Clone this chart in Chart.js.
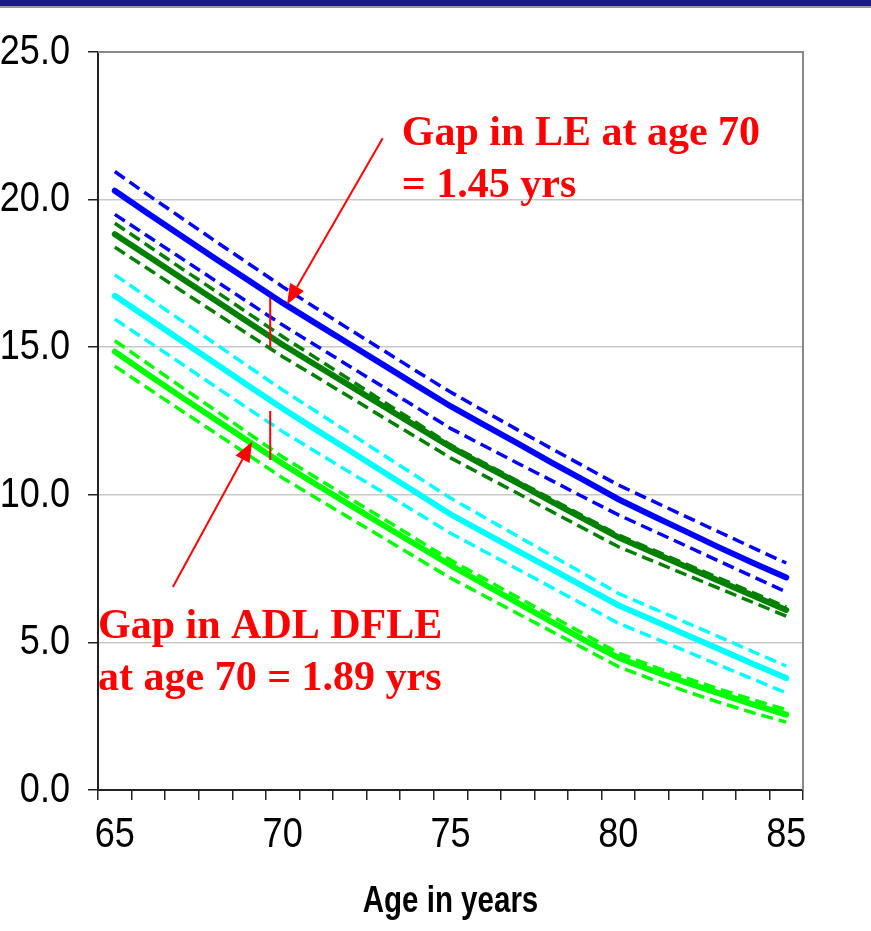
<!DOCTYPE html>
<html>
<head>
<meta charset="utf-8">
<script src="https://cdn.jsdelivr.net/npm/chart.js@4.4.1/dist/chart.umd.min.js"></script>
<style>
  html, body { margin: 0; padding: 0; background: #fff; }
  #wrap { position: relative; width: 871px; height: 931px; }
</style>
</head>
<body>
<div id="wrap"><canvas id="chart" width="871" height="931"></canvas></div>
<script>
// Ages on the category axis
const ages = [65, 66, 67, 68, 69, 70, 71, 72, 73, 74, 75, 76, 77, 78, 79, 80, 81, 82, 83, 84, 85];

// Life expectancy, group 1 (blue) with its bounds
const leBlue      = [20.30, 19.52, 18.76, 18.00, 17.25, 16.50, 15.80, 15.10, 14.40, 13.70, 13.00, 12.37, 11.74, 11.10, 10.48, 9.85, 9.30, 8.76, 8.22, 7.70, 7.20];
const leBlueHi    = [20.95, 20.15, 19.37, 18.59, 17.82, 17.05, 16.32, 15.60, 14.89, 14.18, 13.48, 12.84, 12.20, 11.57, 10.95, 10.33, 9.80, 9.27, 8.74, 8.21, 7.69];
const leBlueLo    = [19.50, 18.75, 18.00, 17.25, 16.50, 15.75, 15.05, 14.35, 13.65, 12.95, 12.25, 11.66, 11.07, 10.49, 9.90, 9.32, 8.80, 8.28, 7.75, 7.23, 6.71];

// Life expectancy, group 2 (dark green) with its bounds
const leGreen     = [18.83, 18.08, 17.33, 16.58, 15.83, 15.08, 14.39, 13.70, 13.00, 12.31, 11.62, 11.00, 10.40, 9.78, 9.17, 8.56, 8.06, 7.57, 7.08, 6.59, 6.10];
const leGreenHi   = [19.20, 18.43, 17.66, 16.90, 16.13, 15.36, 14.63, 13.90, 13.16, 12.43, 11.69, 11.08, 10.47, 9.86, 9.25, 8.64, 8.15, 7.66, 7.18, 6.69, 6.20];
const leGreenLo   = [18.39, 17.65, 16.90, 16.16, 15.42, 14.68, 14.00, 13.31, 12.62, 11.94, 11.25, 10.65, 10.05, 9.44, 8.84, 8.24, 7.77, 7.30, 6.83, 6.36, 5.89];

// ADL disability-free LE, group 1 (cyan) with its bounds
const dfleCyan    = [16.74, 15.98, 15.21, 14.45, 13.68, 12.92, 12.20, 11.49, 10.77, 10.06, 9.34, 8.72, 8.10, 7.49, 6.87, 6.26, 5.77, 5.27, 4.78, 4.28, 3.79];
const dfleCyanHi  = [17.45, 16.67, 15.89, 15.11, 14.33, 13.55, 12.82, 12.09, 11.35, 10.62, 9.89, 9.24, 8.60, 7.95, 7.31, 6.66, 6.17, 5.68, 5.19, 4.69, 4.20];
const dfleCyanLo  = [15.95, 15.19, 14.43, 13.66, 12.90, 12.14, 11.45, 10.76, 10.08, 9.39, 8.70, 8.09, 7.48, 6.87, 6.26, 5.65, 5.18, 4.71, 4.23, 3.76, 3.29];

// ADL disability-free LE, group 2 (bright green) with its bounds
const dfleLime    = [14.85, 14.07, 13.30, 12.55, 11.80, 11.05, 10.35, 9.66, 8.97, 8.29, 7.62, 6.97, 6.34, 5.70, 5.07, 4.48, 4.05, 3.65, 3.27, 2.90, 2.55];
const dfleLimeHi  = [15.22, 14.43, 13.64, 12.86, 12.07, 11.28, 10.58, 9.88, 9.19, 8.49, 7.79, 7.16, 6.53, 5.90, 5.27, 4.64, 4.20, 3.80, 3.42, 3.06, 2.72];
const dfleLimeLo  = [14.36, 13.60, 12.84, 12.09, 11.33, 10.57, 9.89, 9.21, 8.54, 7.86, 7.18, 6.58, 5.98, 5.38, 4.78, 4.18, 3.75, 3.35, 2.97, 2.62, 2.30];

const yTicks = [0, 5, 10, 15, 20, 25];
const xTitle = 'Age in years';

const BLUE = '#0000ff', DKGREEN = '#008000', CYAN = '#00ffff', LIME = '#00ff00', RED = '#ff0000';
const SANS = "'Liberation Sans', Arial, sans-serif";
const SERIF = "'Liberation Serif', 'Times New Roman', serif";

function solid(data, color) {
    return { data, borderColor: color, borderWidth: 6, pointRadius: 0, tension: 0, borderCapStyle: 'round', order: 1 };
}
function dashed(data, color) {
    return { data, borderColor: color, borderWidth: 3.5, borderDash: [12, 6], pointRadius: 0, tension: 0, order: 2 };
}

// narrow (horizontally squeezed) text, like the original Arial Narrow labels
function narrowText(ctx, text, x, y, squeeze) {
    ctx.save();
    ctx.translate(x, y);
    ctx.scale(squeeze, 1);
    ctx.fillText(text, 0, 0);
    ctx.restore();
}

const notes = {
    id: 'notes',
    beforeDraw(chart) {
        const { ctx, width } = chart;
        ctx.save();
        ctx.fillStyle = '#1a1a8c';
        ctx.fillRect(0, 0, width, 6);
        ctx.fillStyle = '#9a9a9a';
        ctx.fillRect(0, 6, width, 2);
        ctx.restore();
    },
    afterDraw(chart) {
        const { ctx, chartArea: a, scales: { x, y } } = chart;
        ctx.save();
        ctx.fillStyle = '#000';

        // y tick labels
        ctx.font = '43px ' + SANS;
        ctx.textAlign = 'right';
        ctx.textBaseline = 'middle';
        yTicks.forEach(v => narrowText(ctx, v.toFixed(1), a.left - 28, y.getPixelForValue(v), 0.84));

        // x tick labels, every fifth age
        ctx.textAlign = 'center';
        ctx.textBaseline = 'top';
        ages.forEach((age, i) => {
            if (age % 5 === 0) narrowText(ctx, String(age), x.getPixelForTick(i), a.bottom + 24, 0.84);
        });

        // x title
        ctx.font = 'bold 36px ' + SANS;
        ctx.textBaseline = 'middle';
        narrowText(ctx, xTitle, (a.left + a.right) / 2, a.bottom + 112, 0.82);
        ctx.restore();
    },
    afterDatasetsDraw(chart) {
        const { ctx, chartArea: a, scales: { x, y } } = chart;
        ctx.save();
        // plot area border (top / right)
        ctx.strokeStyle = '#888';
        ctx.lineWidth = 2;
        ctx.beginPath();
        ctx.moveTo(a.left, a.top);
        ctx.lineTo(a.right, a.top);
        ctx.lineTo(a.right, a.bottom);
        ctx.stroke();

        // gap markers near age 70
        ctx.strokeStyle = RED;
        ctx.lineWidth = 2;
        const gx = x.getPixelForValue(4.63);
        ctx.beginPath();
        ctx.moveTo(gx, y.getPixelForValue(16.67));
        ctx.lineTo(gx, y.getPixelForValue(14.97));
        ctx.moveTo(gx, y.getPixelForValue(12.84));
        ctx.lineTo(gx, y.getPixelForValue(11.18));
        ctx.stroke();

        const arrow = (fx, fy, tx, ty) => {
            const x0 = x.getPixelForValue(fx), y0 = y.getPixelForValue(fy);
            const x1 = x.getPixelForValue(tx), y1 = y.getPixelForValue(ty);
            const ang = Math.atan2(y1 - y0, x1 - x0);
            const len = 20, half = 8;
            const bx = x1 - len * Math.cos(ang), by = y1 - len * Math.sin(ang);
            ctx.strokeStyle = RED;
            ctx.fillStyle = RED;
            ctx.lineWidth = 2;
            ctx.beginPath();
            ctx.moveTo(x0, y0);
            ctx.lineTo(bx, by);
            ctx.stroke();
            ctx.beginPath();
            ctx.moveTo(x1, y1);
            ctx.lineTo(bx + half * Math.sin(ang), by - half * Math.cos(ang));
            ctx.lineTo(bx - half * Math.sin(ang), by + half * Math.cos(ang));
            ctx.closePath();
            ctx.fill();
        };
        arrow(7.98, 22.08, 5.13, 16.45);
        arrow(1.73, 6.88, 4.09, 11.80);

        ctx.fillStyle = RED;
        ctx.font = 'bold 42px ' + SERIF;
        ctx.textAlign = 'left';
        ctx.textBaseline = 'alphabetic';
        const tx = x.getPixelForValue(8.55);
        ctx.fillText('Gap in LE at age 70', tx, y.getPixelForValue(21.85));
        ctx.fillText('= 1.45 yrs', tx, y.getPixelForValue(20.1));
        ctx.fillText('Gap in ADL DFLE', a.left, y.getPixelForValue(5.15));
        ctx.fillText('at age 70 = 1.89 yrs', a.left, y.getPixelForValue(3.4));
        ctx.restore();
    }
};

new Chart(document.getElementById('chart'), {
    type: 'line',
    data: {
        labels: ages,
        datasets: [
            solid(leBlue, BLUE), solid(leGreen, DKGREEN), solid(dfleCyan, CYAN), solid(dfleLime, LIME),
            dashed(leBlueHi, BLUE), dashed(leBlueLo, BLUE),
            dashed(leGreenHi, DKGREEN), dashed(leGreenLo, DKGREEN),
            dashed(dfleCyanHi, CYAN), dashed(dfleCyanLo, CYAN),
            dashed(dfleLimeHi, LIME), dashed(dfleLimeLo, LIME)
        ]
    },
    options: {
        responsive: false,
        animation: false,
        events: [],
        layout: { padding: { top: 52, right: 68, left: 0, bottom: 0 } },
        plugins: { legend: { display: false }, tooltip: { enabled: false } },
        scales: {
            x: {
                type: 'category',
                offset: true,
                grid: { offset: true, drawOnChartArea: false, drawTicks: true, tickLength: 10, tickColor: '#222', lineWidth: 1.5 },
                border: { color: '#222', width: 2 },
                ticks: { display: false, autoSkip: false },
                afterFit: s => { s.height = 141; }
            },
            y: {
                min: 0, max: 25,
                afterBuildTicks: s => { s.ticks = yTicks.map(v => ({ value: v })); },
                grid: { color: ctx => (ctx.tick && ctx.tick.value === 25 ? 'rgba(0,0,0,0)' : '#c8c8c8'), lineWidth: 1.5, tickLength: 10, tickColor: '#222' },
                border: { color: '#222', width: 2 },
                ticks: { display: false },
                afterFit: s => { s.width = 98; }
            }
        }
    },
    plugins: [notes]
});
</script>
</body>
</html>
